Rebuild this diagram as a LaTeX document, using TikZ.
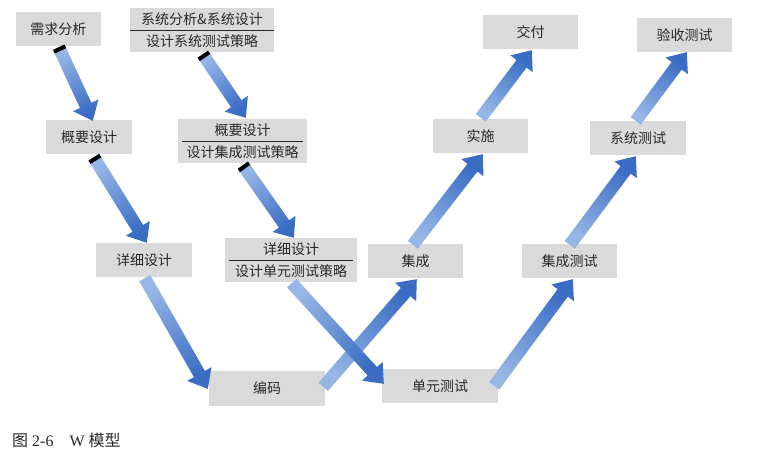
\documentclass[tikz,border=0pt]{standalone}
\usepackage{fontspec}
\setmainfont{Liberation Serif}
\newfontfamily\cjk{Noto Sans CJK SC}
\usetikzlibrary{calc}
\definecolor{boxgray}{RGB}{218,218,218}
\definecolor{arrdark}{RGB}{58,108,196}
\definecolor{arrlight}{RGB}{150,182,230}
\definecolor{txt}{RGB}{40,40,40}

\newcommand{\blockarrow}[3]{%
  \coordinate (bt) at #1;
  \coordinate (bp) at #2;
  \coordinate (bh) at ($(bp)!17pt!(bt)$);
  \coordinate (bq) at ($(bt)!4pt!(bp)$);
  \pgfmathanglebetweenpoints{\pgfpointanchor{bt}{center}}{\pgfpointanchor{bp}{center}}%
  \pgfmathsetmacro\arrang{\pgfmathresult-90}%
  \shade[top color=arrdark,bottom color=arrlight,shading angle=\arrang]
    ($(bt)!6.3pt!90:(bp)$) -- ($(bh)!6.3pt!90:(bp)$) -- ($(bh)!14pt!90:(bp)$) -- (bp)
    -- ($(bh)!14pt!-90:(bp)$) -- ($(bh)!6.3pt!-90:(bp)$) -- ($(bt)!6.3pt!-90:(bp)$) -- cycle;
  \ifnum#3=1
    \fill[black] ($(bt)!6.3pt!90:(bp)$) -- ($(bq)!6.3pt!90:(bp)$) -- ($(bq)!6.3pt!-90:(bp)$) -- ($(bt)!6.3pt!-90:(bp)$) -- cycle;
  \fi
}

\tikzset{
  box/.style={fill=boxgray, inner sep=0pt, text=txt, align=center,
    font=\cjk\fontsize{14}{22}\selectfont},
  divider/.style={draw=txt, line width=0.7pt},
}

\begin{document}
\begin{tikzpicture}[x=1pt,y=-1pt]
\useasboundingbox[fill=white] (0,0) rectangle (764,459);

% left V
\node[box, minimum width=85pt, minimum height=34pt] (req) at (58.5,29) {需求分析};
\node[box, minimum width=86pt, minimum height=34pt] (gy1) at (89,137) {概要设计};
\node[box, minimum width=96pt, minimum height=34pt] (xx1) at (144,260) {详细设计};
\node[box, minimum width=116pt, minimum height=35pt] (code) at (267,388.5) {编码};

% test-design V
\node[box, minimum width=144pt, minimum height=44pt] (sys) at (202,30) {系统分析\&系统设计\\设计系统测试策略};
\draw[divider] (sys.west) -- (sys.east);
\node[box, minimum width=129pt, minimum height=44pt] (gy2) at (242.5,141) {概要设计\\设计集成测试策略};
\draw[divider] ($(gy2.west)+(4,0)$) -- ($(gy2.east)+(-4,0)$);
\node[box, minimum width=132pt, minimum height=44pt] (xx2) at (291,260) {详细设计\\设计单元测试策略};
\draw[divider] ($(xx2.west)+(4,0)$) -- ($(xx2.east)+(-4,0)$);

% right side
\node[box, minimum width=116pt, minimum height=34pt] (unit) at (440,386) {单元测试};
\node[box, minimum width=95pt, minimum height=34pt] (int) at (415.5,261) {集成};
\node[box, minimum width=95pt, minimum height=34pt] (intt) at (569.5,261) {集成测试};
\node[box, minimum width=95pt, minimum height=34pt] (imp) at (480.5,136) {实施};
\node[box, minimum width=96pt, minimum height=34pt] (syst) at (638,138) {系统测试};
\node[box, minimum width=95pt, minimum height=34pt] (del) at (530.5,32) {交付};
\node[box, minimum width=95pt, minimum height=34pt] (acc) at (684.5,35) {验收测试};

% arrows
\blockarrow{($(req.south west)+(43,1)$)}{($(gy1.north west)+(47,1)$)}{1}
\blockarrow{($(gy1.south west)+(48,3)$)}{($(xx1.north west)+(51,0)$)}{1}
\blockarrow{($(xx1.south west)+(49,1)$)}{($(code.north west)+(-1,18)$)}{0}
\blockarrow{($(sys.south west)+(73,2)$)}{($(gy2.north west)+(68,-1)$)}{1}
\blockarrow{($(gy2.south west)+(65,2)$)}{($(xx2.north west)+(69,0)$)}{1}
\blockarrow{($(code.north east)+(-2,16)$)}{($(int.south west)+(49,1)$)}{0}
\blockarrow{($(xx2.south west)+(67,1)$)}{($(unit.north west)+(2,15)$)}{0}
\blockarrow{($(unit.north east)+(-4,17)$)}{($(intt.south west)+(51,1)$)}{0}
\blockarrow{($(int.north west)+(45,1)$)}{($(imp.south west)+(50,1)$)}{0}
\blockarrow{($(imp.north west)+(48,-1)$)}{($(del.south west)+(49,1)$)}{0}
\blockarrow{($(intt.north west)+(48,1)$)}{($(syst.south west)+(46,1)$)}{0}
\blockarrow{($(syst.north west)+(46,0)$)}{($(acc.south west)+(50,0)$)}{0}

% caption
\node[anchor=west, inner sep=0pt, text=txt, font=\fontsize{16}{18}\selectfont] (cap) at (12,440)
  {{\cjk 图} 2-6\hspace{1em}W {\cjk 模型}};
\end{tikzpicture}
\end{document}
